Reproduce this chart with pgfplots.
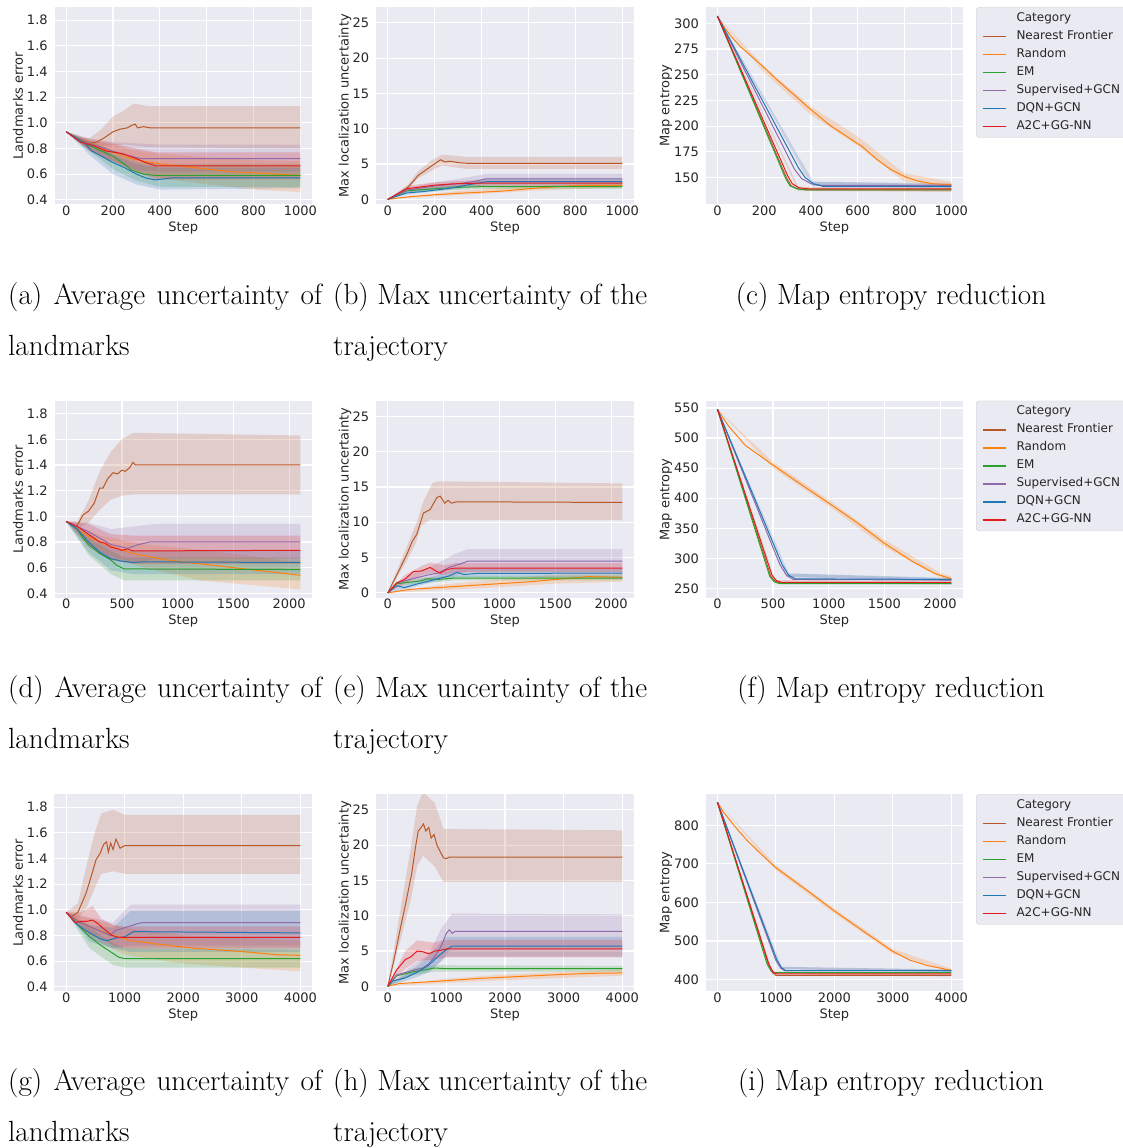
\documentclass[border=0pt]{standalone}
\usepackage{fontspec}
\newfontfamily\dejavu{DejaVu Sans}
\usepackage{pgfplots}
\pgfplotsset{compat=1.18}

\definecolor{sbbg}{HTML}{EAEAF2}
\definecolor{sbtext}{HTML}{262626}
\definecolor{sbedge}{RGB}{204,204,204}
\definecolor{cNF}{RGB}{184,88,42}
\definecolor{cRA}{RGB}{255,127,14}
\definecolor{cEM}{RGB}{44,160,44}
\definecolor{cSU}{RGB}{145,105,170}
\definecolor{cDQ}{RGB}{31,119,180}
\definecolor{cA2}{RGB}{228,26,28}

\newcommand\band[2]{\addplot[draw=none, fill=#1, fill opacity=0.2, forget plot] coordinates {#2} -- cycle;}
\newcommand\curve[2]{\addplot[color=#1, line width=1pt, mark=none, forget plot] coordinates {#2};}
\newcommand\capfont{\fontsize{29.2pt}{51pt}\selectfont}
\newcommand\legendall{%
 \addlegendimage{empty legend}\addlegendentry{Category}
 \addlegendimage{color=cNF}\addlegendentry{Nearest Frontier}
 \addlegendimage{color=cRA}\addlegendentry{Random}
 \addlegendimage{color=cEM}\addlegendentry{EM}
 \addlegendimage{color=cSU}\addlegendentry{Supervised+GCN}
 \addlegendimage{color=cDQ}\addlegendentry{DQN+GCN}
 \addlegendimage{color=cA2}\addlegendentry{A2C+GG-NN}}

\pgfplotsset{
 sb/.style={
  scale only axis, height=197pt, anchor=south west,
  axis background/.style={fill=sbbg},
  axis line style={draw=none},
  major tick length=0pt, tick style={draw=none},
  grid=major, major grid style={draw=white, line width=1.2pt},
  /pgf/number format/assume math mode=true,
  /pgf/number format/1000 sep={},
  scaled ticks=false,
  ticklabel style={font=\dejavu\fontsize{13pt}{13pt}\selectfont, text=sbtext},
  yticklabel style={xshift=-3.3pt},
  xticklabel style={yshift=2pt},
  label style={font=\dejavu\fontsize{13pt}{13pt}\selectfont, text=sbtext},
  xlabel={Step},
  xlabel style={at={(axis description cs:0.5,-0.1188)}, anchor=center},
 },
 colA/.style={sb, width=257.5pt, ymin=0.365, ymax=1.9, ytick={0.4,0.6,0.8,1.0,1.2,1.4,1.6,1.8},
  yticklabel style={/pgf/number format/fixed, /pgf/number format/fixed zerofill, /pgf/number format/precision=1},
  ylabel={Landmarks error}, ylabel style={at={(axis description cs:-0.1417,0.5)}, anchor=center}},
 colB/.style={sb, width=258pt, ymin=-0.7, ymax=27.2, ytick={0,5,10,15,20,25},
  ylabel={Max localization uncertainty}, ylabel style={at={(axis description cs:-0.120,0.5)}, anchor=center}},
 colC/.style={sb, width=257.3pt,
  ylabel={Map entropy}, ylabel style={at={(axis description cs:-0.154,0.5)}, anchor=center},
  legend cell align=left,
  legend style={at={(axis description cs:1.0505,1)}, anchor=north west, fill=sbbg, draw=sbedge,
   rounded corners=3pt, font=\dejavu\fontsize{12pt}{12pt}\selectfont, text=sbtext,
   inner xsep=5.7pt, inner ysep=2pt, column sep=10pt, row sep=0pt,
   nodes={inner sep=0pt, text height=12pt, text depth=6pt}},
  legend image code/.code={\draw[##1, line width=1.6pt, opacity=1, draw opacity=1] (0pt,0pt) -- (23pt,0pt);}},
 row1/.style={xmin=-50, xmax=1050, xtick={0,200,400,600,800,1000}},
 row2/.style={xmin=-105, xmax=2205, xtick={0,500,1000,1500,2000}},
 row3/.style={xmin=-200, xmax=4200, xtick={0,1000,2000,3000,4000}},
}

\begin{document}
\begin{tikzpicture}
\path[use as bounding box] (0pt,0pt) rectangle (1122pt,1148pt);

%================ ROW 1 ================
\begin{axis}[colA, row1, at={(54.5pt,943.7pt)}]
\band{cNF}{(0,0.93)(60,0.88)(100,0.88)(150,0.95)(200,1.05)(250,1.10)(290,1.15)(350,1.13)(1000,1.13)(1000,0.80)(350,0.81)(250,0.83)(150,0.82)(100,0.81)(60,0.84)(0,0.93)}
\band{cRA}{(0,0.93)(100,0.86)(200,0.83)(300,0.78)(400,0.76)(600,0.73)(800,0.71)(1000,0.70)(1000,0.46)(800,0.48)(600,0.52)(400,0.57)(300,0.62)(200,0.70)(100,0.78)(0,0.93)}
\band{cEM}{(0,0.93)(100,0.86)(200,0.78)(300,0.70)(400,0.68)(1000,0.68)(1000,0.50)(400,0.50)(300,0.55)(200,0.64)(100,0.78)(0,0.93)}
\band{cSU}{(0,0.93)(100,0.88)(200,0.85)(300,0.84)(400,0.83)(1000,0.83)(1000,0.62)(400,0.62)(300,0.63)(200,0.70)(100,0.78)(0,0.93)}
\band{cDQ}{(0,0.93)(100,0.85)(200,0.75)(300,0.68)(400,0.65)(1000,0.65)(1000,0.49)(400,0.48)(300,0.52)(200,0.60)(100,0.75)(0,0.93)}
\band{cA2}{(0,0.93)(100,0.87)(200,0.84)(300,0.80)(380,0.77)(1000,0.77)(1000,0.56)(380,0.56)(300,0.62)(200,0.70)(100,0.78)(0,0.93)}
\curve{cNF}{(0,0.93)(50,0.87)(100,0.84)(130,0.85)(160,0.88)(200,0.93)(230,0.95)(260,0.96)(280,0.98)(295,0.99)(305,0.96)(330,0.97)(360,0.96)(1000,0.96)}
\curve{cRA}{(0,0.93)(60,0.86)(150,0.80)(220,0.76)(280,0.72)(330,0.70)(400,0.68)(500,0.66)(600,0.64)(700,0.62)(850,0.605)(1000,0.59)}
\curve{cEM}{(0,0.93)(80,0.84)(150,0.78)(200,0.74)(240,0.69)(280,0.63)(330,0.60)(380,0.59)(1000,0.59)}
\curve{cSU}{(0,0.93)(70,0.85)(150,0.81)(230,0.76)(280,0.74)(320,0.72)(1000,0.72)}
\curve{cDQ}{(0,0.93)(80,0.84)(110,0.78)(150,0.74)(200,0.69)(250,0.65)(300,0.60)(340,0.57)(380,0.555)(450,0.57)(1000,0.57)}
\curve{cA2}{(0,0.93)(60,0.85)(120,0.82)(170,0.78)(240,0.76)(300,0.72)(340,0.69)(380,0.665)(1000,0.665)}
\end{axis}

\begin{axis}[colB, row1, at={(376pt,943.7pt)}]
\band{cNF}{(0,0)(80,1.8)(130,4.0)(190,5.6)(230,6.3)(280,6.2)(340,6.0)(1000,6.0)(1000,4.3)(340,4.3)(230,4.8)(190,4.1)(130,3.0)(80,1.2)(0,0)}
\band{cRA}{(0,0)(300,1.2)(600,1.9)(1000,2.3)(1000,1.7)(600,1.2)(300,0.6)(0,0)}
\band{cEM}{(0,0)(80,1.4)(200,1.8)(400,2.1)(1000,2.1)(1000,1.5)(400,1.5)(200,1.2)(80,1.0)(0,0)}
\band{cSU}{(0,0)(80,1.6)(200,2.4)(320,3.0)(420,3.6)(1000,3.6)(1000,2.3)(420,2.3)(320,1.8)(200,1.4)(80,1.0)(0,0)}
\band{cDQ}{(0,0)(80,1.1)(200,1.7)(300,2.2)(420,3.0)(1000,3.0)(1000,2.0)(420,2.0)(300,1.5)(200,1.1)(80,0.7)(0,0)}
\band{cA2}{(0,0)(80,1.9)(200,2.4)(300,2.6)(400,2.7)(1000,2.7)(1000,1.9)(400,1.9)(300,1.8)(200,1.6)(80,1.2)(0,0)}
\curve{cNF}{(0,0)(40,0.7)(80,1.5)(110,2.6)(130,3.4)(160,4.1)(190,4.8)(225,5.6)(245,5.3)(265,5.4)(285,5.3)(300,5.2)(340,5.1)(1000,5.1)}
\curve{cRA}{(0,0)(100,0.4)(200,0.65)(300,0.85)(420,1.05)(500,1.2)(600,1.5)(700,1.75)(800,1.95)(1000,2.0)}
\curve{cEM}{(0,0)(80,1.2)(200,1.5)(300,1.7)(400,1.8)(1000,1.8)}
\curve{cSU}{(0,0)(80,1.3)(200,1.9)(320,2.3)(380,2.6)(420,2.9)(1000,2.9)}
\curve{cDQ}{(0,0)(80,0.9)(150,1.1)(250,1.5)(350,2.1)(420,2.5)(1000,2.5)}
\curve{cA2}{(0,0)(80,1.5)(200,2.0)(280,2.2)(400,2.3)(1000,2.3)}
\end{axis}

\begin{axis}[colC, row1, at={(705.7pt,943.7pt)}, ymin=124, ymax=315.6, ytick={150,175,200,225,250,275,300}]
\band{cRA}{(0,307)(200,258)(400,219)(600,190)(800,154)(1000,146)(1000,140)(800,146)(600,181)(400,211)(200,252)(0,307)}
\band{cNF}{(0,307)(345,141)(1000,140.5)(1000,136)(345,137)(0,307)}
\band{cSU}{(0,307)(400,146)(1000,144.5)(1000,140.5)(400,142)(0,307)}
\band{cDQ}{(0,307)(410,146)(1000,143.5)(1000,139.5)(410,142)(0,307)}
\curve{cNF}{(0,307)(295,150)(315,142)(345,139)(385,138)(1000,138)}
\curve{cRA}{(0,307)(30,296)(60,287)(100,277)(150,267)(200,257)(250,246)(320,232)(400,216)(480,201)(560,189)(620,180)(680,168)(740,158)(800,151)(860,146.5)(920,144)(1000,143)}
\curve{cEM}{(0,307)(290,150)(310,142)(340,139)(380,138)(1000,138)}
\curve{cSU}{(0,307)(330,158)(360,149)(400,144)(440,142.5)(1000,142.5)}
\curve{cDQ}{(0,307)(345,160)(375,150)(410,144)(450,141.5)(1000,141.5)}
\curve{cA2}{(0,307)(300,152)(320,144)(350,140)(390,139)(1000,139)}
\legendall
\end{axis}

%================ ROW 2 ================
\begin{axis}[colA, row2, at={(54.5pt,550.2pt)}]
\band{cNF}{(0,0.96)(100,0.96)(200,1.12)(300,1.35)(400,1.50)(500,1.60)(600,1.65)(2100,1.63)(2100,1.17)(600,1.17)(500,1.16)(400,1.13)(300,1.05)(200,0.95)(100,0.90)(0,0.96)}
\band{cRA}{(0,0.96)(300,0.85)(700,0.78)(1200,0.74)(2100,0.64)(2100,0.43)(1200,0.50)(700,0.60)(300,0.72)(0,0.96)}
\band{cEM}{(0,0.96)(200,0.83)(400,0.73)(520,0.68)(2100,0.68)(2100,0.50)(520,0.50)(400,0.55)(200,0.70)(0,0.96)}
\band{cSU}{(0,0.96)(200,0.95)(400,0.90)(600,0.92)(800,0.94)(2100,0.94)(2100,0.67)(800,0.67)(600,0.63)(400,0.66)(200,0.78)(0,0.96)}
\band{cDQ}{(0,0.96)(200,0.86)(400,0.75)(600,0.73)(2100,0.73)(2100,0.55)(600,0.55)(400,0.58)(200,0.72)(0,0.96)}
\band{cA2}{(0,0.96)(200,0.94)(400,0.86)(600,0.85)(2100,0.85)(2100,0.63)(600,0.63)(400,0.66)(200,0.76)(0,0.96)}
\curve{cNF}{(0,0.96)(60,0.93)(100,0.93)(150,1.01)(200,1.04)(250,1.10)(300,1.22)(330,1.22)(370,1.29)(420,1.34)(460,1.33)(500,1.36)(530,1.35)(570,1.38)(600,1.42)(620,1.40)(2100,1.40)}
\curve{cRA}{(0,0.96)(100,0.90)(200,0.84)(350,0.78)(600,0.71)(900,0.66)(1200,0.63)(1500,0.60)(1800,0.57)(2100,0.54)}
\curve{cEM}{(0,0.96)(100,0.90)(150,0.83)(200,0.78)(300,0.71)(400,0.66)(450,0.62)(520,0.59)(2100,0.585)}
\curve{cSU}{(0,0.96)(100,0.92)(200,0.88)(300,0.83)(400,0.78)(480,0.765)(550,0.75)(650,0.78)(750,0.80)(2100,0.80)}
\curve{cDQ}{(0,0.96)(100,0.90)(200,0.80)(300,0.72)(400,0.67)(500,0.65)(600,0.64)(700,0.645)(2100,0.64)}
\curve{cA2}{(0,0.96)(100,0.92)(200,0.86)(300,0.80)(350,0.79)(400,0.76)(450,0.75)(500,0.735)(550,0.745)(600,0.73)(2100,0.735)}
\end{axis}

\begin{axis}[colB, row2, at={(376pt,550.2pt)}]
\band{cNF}{(0,0)(170,6.5)(260,10)(320,13)(400,15.5)(450,15.8)(2100,15.5)(2100,10.3)(450,10.3)(380,10.4)(300,9.5)(250,7.0)(170,4.5)(0,0)}
\band{cRA}{(0,0)(500,1.2)(1000,1.9)(1500,2.6)(2100,2.8)(2100,1.6)(1500,1.3)(1000,0.8)(500,0.4)(0,0)}
\band{cEM}{(0,0)(80,1.6)(300,2.1)(600,2.45)(2100,2.45)(2100,1.75)(600,1.75)(300,1.35)(80,1.0)(0,0)}
\band{cSU}{(0,0)(200,2.5)(400,3.8)(600,5.5)(720,6.2)(2100,6.2)(2100,3.0)(720,3.0)(600,2.4)(400,1.9)(200,1.4)(0,0)}
\band{cDQ}{(0,0)(200,1.4)(400,2.3)(620,3.5)(2100,3.4)(2100,2.2)(620,2.2)(400,1.5)(200,0.7)(0,0)}
\band{cA2}{(0,0)(150,2.5)(300,3.8)(380,4.3)(500,3.9)(600,4.2)(2100,4.2)(2100,2.9)(600,2.9)(500,2.5)(380,2.8)(300,2.5)(150,1.3)(0,0)}
\curve{cNF}{(0,0)(80,2.5)(170,5.4)(220,7.3)(260,8.3)(320,11.3)(380,11.8)(440,13.5)(470,13.7)(510,12.7)(540,13.1)(570,12.7)(620,12.9)(2100,12.8)}
\curve{cRA}{(0,0)(200,0.5)(500,0.8)(900,1.2)(1300,1.6)(1500,1.9)(1800,2.3)(2100,2.2)}
\curve{cEM}{(0,0)(80,1.3)(300,1.7)(350,2.0)(450,1.9)(600,2.1)(2100,2.1)}
\curve{cSU}{(0,0)(80,1.4)(200,1.9)(350,2.5)(450,2.8)(550,3.6)(650,4.1)(720,4.5)(2100,4.5)}
\curve{cDQ}{(0,0)(80,1.0)(150,0.75)(250,1.2)(350,1.6)(450,2.0)(550,2.4)(620,2.9)(680,2.6)(800,2.75)(2100,2.8)}
\curve{cA2}{(0,0)(80,1.4)(150,1.9)(230,3.0)(300,3.1)(380,3.6)(420,3.2)(470,2.8)(530,3.3)(600,3.5)(2100,3.5)}
\end{axis}

\begin{axis}[colC, row2, at={(705.7pt,550.2pt)}, ymin=234.5, ymax=562, ytick={250,300,350,400,450,500,550}]
\band{cRA}{(0,548)(500,460)(1000,397)(1500,331)(2000,276)(2100,270)(2100,262)(2000,268)(1500,319)(1000,387)(500,450)(0,548)}
\band{cNF}{(0,548)(520,264)(2100,261.5)(2100,256.5)(520,259)(0,548)}
\band{cSU}{(0,548)(620,275)(2100,266.5)(2100,261.5)(620,269)(0,548)}
\band{cDQ}{(0,548)(640,275)(2100,267.5)(2100,262.5)(640,269)(0,548)}
\curve{cNF}{(0,548)(480,270)(520,262)(570,259)(2100,259)}
\curve{cRA}{(0,548)(100,520)(250,488)(500,455)(750,423)(1000,392)(1250,360)(1500,325)(1750,295)(1950,275)(2100,266)}
\curve{cEM}{(0,548)(470,270)(510,261)(560,258)(2100,258)}
\curve{cSU}{(0,548)(560,290)(620,272)(680,265)(2100,264)}
\curve{cDQ}{(0,548)(580,290)(640,272)(700,266)(2100,265)}
\curve{cA2}{(0,548)(490,272)(530,263)(580,260)(2100,260)}
\legendall
\end{axis}

%================ ROW 3 ================
\begin{axis}[colA, row3, at={(54.5pt,156.7pt)}]
\band{cNF}{(0,0.98)(200,1.05)(350,1.35)(500,1.62)(600,1.75)(800,1.78)(1000,1.74)(4000,1.74)(4000,1.28)(1000,1.28)(800,1.30)(600,1.28)(500,1.18)(350,1.02)(200,0.93)(0,0.98)}
\band{cRA}{(0,0.98)(500,0.92)(1000,0.86)(2000,0.80)(4000,0.76)(4000,0.52)(2000,0.58)(1000,0.65)(500,0.76)(0,0.98)}
\band{cEM}{(0,0.98)(400,0.86)(800,0.74)(1000,0.70)(4000,0.69)(4000,0.55)(1000,0.55)(800,0.57)(400,0.70)(0,0.98)}
\band{cSU}{(0,0.98)(400,0.94)(800,0.90)(1100,1.04)(4000,1.04)(4000,0.72)(1100,0.72)(800,0.70)(400,0.78)(0,0.98)}
\band{cDQ}{(0,0.98)(400,0.88)(800,0.86)(1100,0.99)(4000,0.99)(4000,0.67)(1100,0.67)(800,0.70)(400,0.75)(0,0.98)}
\band{cA2}{(0,0.98)(250,0.98)(450,1.03)(600,0.93)(800,0.88)(1000,0.87)(4000,0.87)(4000,0.70)(1000,0.70)(800,0.72)(600,0.78)(450,0.80)(250,0.85)(0,0.98)}
\curve{cNF}{(0,0.98)(100,0.95)(200,0.98)(340,1.13)(420,1.25)(510,1.39)(580,1.44)(640,1.51)(690,1.53)(720,1.45)(760,1.52)(800,1.47)(850,1.55)(920,1.48)(1000,1.50)(4000,1.50)}
\curve{cRA}{(0,0.98)(250,0.90)(500,0.85)(800,0.80)(1100,0.76)(1600,0.73)(2200,0.70)(3000,0.675)(3600,0.65)(4000,0.645)}
\curve{cEM}{(0,0.98)(200,0.88)(400,0.79)(600,0.72)(800,0.66)(900,0.63)(1000,0.62)(4000,0.62)}
\curve{cSU}{(0,0.98)(200,0.91)(400,0.87)(600,0.83)(750,0.80)(850,0.84)(1000,0.86)(1200,0.89)(1300,0.90)(4000,0.90)}
\curve{cDQ}{(0,0.98)(200,0.88)(400,0.82)(600,0.77)(700,0.76)(850,0.78)(1000,0.79)(1150,0.83)(4000,0.82)}
\curve{cA2}{(0,0.98)(150,0.90)(250,0.91)(350,0.91)(450,0.92)(550,0.89)(620,0.86)(700,0.83)(780,0.80)(900,0.785)(4000,0.785)}
\end{axis}

\begin{axis}[colB, row3, at={(376pt,156.7pt)}]
\band{cNF}{(0,0)(200,10)(400,20)(500,25.5)(600,27.5)(800,26)(950,22.3)(4000,22.1)(4000,14.8)(950,14.8)(800,17)(600,18.5)(500,17)(400,12.5)(200,6)(0,0)}
\band{cRA}{(0,0)(1000,1.1)(2000,1.7)(4000,2.4)(4000,1.5)(2000,0.9)(1000,0.5)(0,0)}
\band{cEM}{(0,0)(400,2.5)(800,3.0)(4000,2.9)(4000,2.1)(800,2.1)(400,1.5)(0,0)}
\band{cSU}{(0,0)(400,2.9)(700,4.5)(900,8)(1100,10.3)(4000,10.2)(4000,5.5)(1100,5.5)(900,3.5)(700,2.2)(400,1.6)(0,0)}
\band{cDQ}{(0,0)(400,2.2)(700,4.3)(1000,7.0)(4000,7.0)(4000,4.2)(1000,4.2)(700,2.0)(400,1.0)(0,0)}
\band{cA2}{(0,0)(300,5.0)(500,6.5)(800,6.2)(1000,6.6)(4000,6.6)(4000,4.1)(1000,4.1)(800,3.8)(500,3.6)(300,2.5)(0,0)}
\curve{cNF}{(0,0)(100,3.5)(210,8)(300,11.5)(409,16)(470,19.5)(520,22)(570,22.5)(610,23)(650,22)(700,22.5)(740,21)(790,21.5)(840,20)(900,19)(950,18.2)(1000,18.1)(1050,18.3)(4000,18.3)}
\curve{cRA}{(0,0)(200,0.4)(600,0.6)(1000,0.8)(1500,1.1)(2000,1.3)(2500,1.5)(3000,1.7)(3500,1.85)(4000,1.9)}
\curve{cEM}{(0,0)(150,1.5)(400,2.0)(600,2.3)(800,2.6)(1000,2.5)(4000,2.5)}
\curve{cSU}{(0,0)(150,1.6)(400,2.2)(600,2.6)(700,3.2)(800,4.2)(900,5.5)(1000,7.5)(1050,8.0)(1100,7.5)(1150,7.8)(4000,7.8)}
\curve{cDQ}{(0,0)(100,0.8)(300,1.2)(500,2.0)(700,3.0)(850,4.2)(1000,5.2)(1100,5.7)(4000,5.7)}
\curve{cA2}{(0,0)(150,2.3)(300,3.8)(400,4.2)(500,5.0)(600,4.9)(700,4.6)(800,5.0)(900,5.1)(1000,5.3)(4000,5.3)}
\end{axis}

\begin{axis}[colC, row3, at={(705.7pt,156.7pt)}, ymin=369.6, ymax=880.5, ytick={400,500,600,700,800}]
\band{cRA}{(0,860)(1000,696)(2000,584)(3000,479)(4000,428)(4000,420)(3000,467)(2000,572)(1000,684)(0,860)}
\band{cNF}{(0,860)(940,421)(4000,414)(4000,408)(940,415)(0,860)}
\band{cSU}{(0,860)(1080,433)(4000,426)(4000,420)(1080,427)(0,860)}
\band{cDQ}{(0,860)(1100,433)(4000,426)(4000,420)(1100,427)(0,860)}
\curve{cNF}{(0,860)(870,440)(940,418)(1000,411)(4000,411)}
\curve{cRA}{(0,860)(100,835)(300,797)(500,762)(750,725)(1000,690)(1500,635)(2000,578)(2500,525)(3000,473)(3300,450)(3600,436)(4000,424)}
\curve{cEM}{(0,860)(850,440)(920,422)(980,418)(4000,418)}
\curve{cSU}{(0,860)(1000,450)(1080,430)(1150,423)(4000,423)}
\curve{cDQ}{(0,860)(1020,450)(1100,430)(1170,423)(4000,423)}
\curve{cA2}{(0,860)(880,440)(950,420)(1010,415)(4000,415)}
\legendall
\end{axis}

%================ CAPTIONS ================
\foreach \yy/\la/\lb/\lc in {843/a/b/c, 450/d/e/f, 57/g/h/i}{
 \node[anchor=base west, inner sep=0pt, text width=314pt, align=justify, font=\capfont] at (8pt,\yy pt) {\hyphenpenalty=10000 (\la) Average uncertainty of landmarks};
 \node[anchor=base west, inner sep=0pt, text width=314pt, align=justify, font=\capfont] at (333pt,\yy pt) {\hyphenpenalty=10000 (\lb) Max uncertainty of the trajectory};
 \node[anchor=base, inner sep=0pt, font=\capfont] at (891pt,\yy pt) {(\lc) Map entropy reduction};
}
\end{tikzpicture}
\end{document}
